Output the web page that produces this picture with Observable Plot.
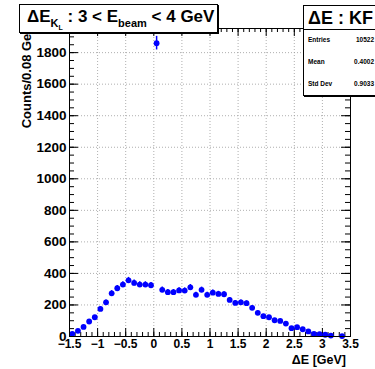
<!DOCTYPE html>
<html><head><meta charset="utf-8">
<script src="https://cdn.jsdelivr.net/npm/d3@7"></script>
<script src="https://cdn.jsdelivr.net/npm/@observablehq/plot@0.6"></script>
<style>
body{margin:0;background:#fff;}
#wrap{position:relative;width:375px;height:369px;overflow:hidden;font-family:"Liberation Sans",Arial,sans-serif;font-weight:bold;color:#000;}
.box{position:absolute;background:#fff;border:1px solid #000;box-shadow:1px 1px 0 #000;}
.t{position:absolute;white-space:nowrap;}
</style></head><body><div id="wrap"></div>
<script>
// Bin centres (GeV) of the ΔE histogram
const binCenters = [-1.45,-1.35,-1.25,-1.15,-1.05,-0.95,-0.85,-0.75,-0.65,-0.55,
  -0.45,-0.35,-0.25,-0.15,-0.05,0.05,0.15,0.25,0.35,0.45,
  0.55,0.65,0.75,0.85,0.95,1.05,1.15,1.25,1.35,1.45,
  1.55,1.65,1.75,1.85,1.95,2.05,2.15,2.25,2.35,2.45,
  2.55,2.65,2.75,2.85,2.95,3.05,3.15,3.25,3.35,3.45];
// Counts per bin (0 = empty bin, not drawn)
const counts = [17,36,61,95,122,175,217,274,306,329,
  356,340,329,329,325,1860,296,281,281,292,
  291,312,264,296,264,278,270,268,232,213,
  217,211,182,150,129,122,103,99,82,53,
  59,46,32,17,15,11,6,0,3,0];
const xMajor = [-1.5,-1,-0.5,0,0.5,1,1.5,2,2.5,3,3.5];
const xTickLabels = ["\u22121.5","\u22121","\u22120.5","0","0.5","1","1.5","2","2.5","3","3.5"];
const yMajor = [0,200,400,600,800,1000,1200,1400,1600,1800];
const yTickLabels = ["0","200","400","600","800","1000","1200","1400","1600","1800"];
const statsNames = ["Entries","Mean","Std Dev"];
const statsValues = ["10522","0.4002","0.9033"];

const xMinor = d3.range(-1.5, 3.5001, 0.1).map(v => +v.toFixed(2));
const yMinor = d3.range(0, 1951, 50);
const data = binCenters.map((x, i) => ({x, y: counts[i]})).filter(d => d.y > 0);

const W = 375, H = 369, mL = 69, mR = 25, mT = 28, mB = 33;
const pw = W - mL - mR, ph = H - mT - mB;
const blue = "#0000ff";
const grid = {stroke: "#9a9a9a", strokeOpacity: 1, strokeWidth: 0.8, strokeDasharray: "1,2"};

const chart = Plot.plot({
  width: W, height: H,
  marginLeft: mL, marginRight: mR, marginTop: mT, marginBottom: mB,
  x: {domain: [-1.5, 3.5]},
  y: {domain: [0, 1953]},
  style: {fontFamily: "'Liberation Sans', Arial, sans-serif", fontWeight: "bold", fontSize: "13px", color: "#000", background: "#fff"},
  marks: [
    Plot.gridX(xMajor.slice(1, -1), grid),
    Plot.gridY(yMajor.slice(1), grid),
    // inward ticks, bottom/top
    Plot.tickX(xMinor, {x: d => d, insetTop: ph - 4, stroke: "#000"}),
    Plot.tickX(xMajor, {x: d => d, insetTop: ph - 8, stroke: "#000"}),
    Plot.tickX(xMinor, {x: d => d, insetBottom: ph - 4, stroke: "#000"}),
    Plot.tickX(xMajor, {x: d => d, insetBottom: ph - 8, stroke: "#000"}),
    // inward ticks, left/right
    Plot.tickY(yMinor, {y: d => d, insetRight: pw - 5, stroke: "#000"}),
    Plot.tickY(yMajor, {y: d => d, insetRight: pw - 9, stroke: "#000"}),
    Plot.tickY(yMinor, {y: d => d, insetLeft: pw - 5, stroke: "#000"}),
    Plot.tickY(yMajor, {y: d => d, insetLeft: pw - 9, stroke: "#000"}),
    Plot.axisX(xMajor, {tickSize: 0, tickPadding: 3, tickFormat: d => xTickLabels[xMajor.indexOf(d)], label: null, fontSize: 12}),
    Plot.axisY(yMajor, {tickSize: 0, tickPadding: 3, tickFormat: d => yTickLabels[yMajor.indexOf(d)], label: null, fontSize: 13.5}),
    Plot.ruleX(data, {x: "x", y1: d => d.y - Math.sqrt(d.y), y2: d => d.y + Math.sqrt(d.y), stroke: blue, strokeWidth: 1.5}),
    Plot.dot(data, {x: "x", y: "y", r: 2.9, fill: blue, stroke: null}),
    Plot.frame({stroke: "#000", strokeWidth: 1})
  ]
});

const svg = d3.select(chart);
svg.append("text")
  .attr("transform", `translate(31,25) rotate(-90)`)
  .attr("text-anchor", "end")
  .attr("font-size", 13).attr("font-weight", "bold")
  .text("Counts/0.08 GeV");
svg.append("text")
  .attr("x", 346).attr("y", 363.5)
  .attr("text-anchor", "end")
  .attr("font-size", 12.5).attr("font-weight", "bold")
  .text("\u0394E [GeV]");

const wrap = document.getElementById("wrap");
wrap.appendChild(chart);

// Title box
const tb = document.createElement("div");
tb.className = "box";
Object.assign(tb.style, {left: "19px", top: "4px", width: "197px", height: "27px"});
tb.innerHTML = `<div class="t" style="left:7px;top:3px;font-size:17px;line-height:17px;">
\u0394E<span style="font-size:11px;position:relative;top:5px;">K<span style="font-size:7px;position:relative;top:3px;">L</span></span> : 3 &lt; E<span style="font-size:11px;position:relative;top:5px;">beam</span> &lt; 4 GeV</div>`;
wrap.appendChild(tb);

// Stats box
const sb = document.createElement("div");
sb.className = "box";
Object.assign(sb.style, {left: "303px", top: "5px", width: "80px", height: "89px"});
let html = `<div class="t" style="left:4px;top:3px;font-size:18px;line-height:18px;">\u0394E : KF</div>
<div style="position:absolute;left:0;top:23px;width:100%;border-top:1px solid #000;"></div>`;
statsNames.forEach((n, i) => {
  const y = 30 + i * 22;
  html += `<div class="t" style="left:4px;top:${y}px;font-size:6.5px;">${n}</div>
  <div class="t" style="left:40px;width:30px;text-align:right;top:${y}px;font-size:6.5px;">${statsValues[i]}</div>`;
});
sb.innerHTML = html;
wrap.appendChild(sb);
</script>
</body></html>
